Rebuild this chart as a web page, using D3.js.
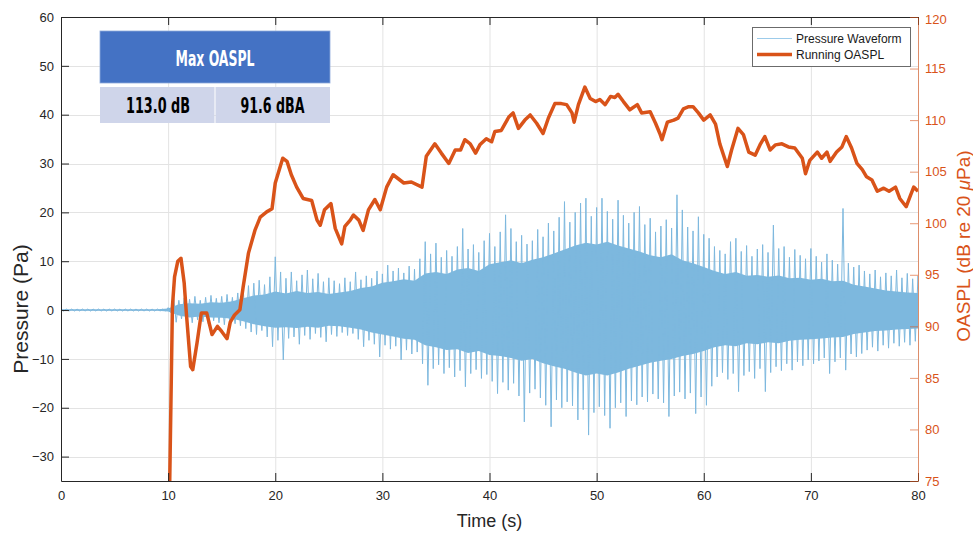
<!DOCTYPE html>
<html>
<head>
<meta charset="utf-8">
<script src="https://cdn.jsdelivr.net/npm/d3@7"></script>
<style>
  body { margin: 0; background: #fff; }
  svg { display: block; font-family: "Liberation Sans", Arial, Helvetica, sans-serif; }
</style>
</head>
<body>
<script>
// Running OASPL (dB re 20 uPa)
const oaTime = [10.15, 10.4, 10.6, 10.9, 11.2, 11.5, 11.7, 12.1, 12.3, 12.7, 13.1, 13.6, 14.1, 14.6, 15.0, 15.5, 15.8, 16.2, 16.7, 17.0,
  17.5, 18.1, 18.6, 19.2, 19.7, 20.0, 20.7, 21.1, 21.5, 22.0, 22.6, 23.4, 23.9, 24.2, 24.6, 25.2, 25.6, 26.2, 26.5, 27.0,
  27.3, 27.8, 28.2, 28.7, 29.3, 29.8, 30.4, 31.0, 32.0, 32.7, 33.7, 34.1, 34.9, 35.5, 36.2, 36.8, 37.3, 37.7, 38.2, 38.7,
  39.1, 39.7, 40.2, 40.5, 41.1, 41.8, 42.2, 42.7, 43.3, 43.8, 44.4, 45.0, 45.5, 46.1, 46.7, 47.2, 47.7, 47.9, 48.3, 48.9,
  49.4, 49.9, 50.3, 50.8, 51.3, 51.7, 52.0, 52.5, 53.1, 53.8, 54.2, 55.0, 55.5, 55.9, 56.1, 56.6, 57.2, 57.6, 58.1, 58.6,
  59.0, 59.5, 60.0, 60.6, 61.1, 61.5, 62.2, 62.6, 63.2, 63.7, 64.2, 64.8, 65.3, 65.7, 66.2, 66.7, 67.3, 67.9, 68.5, 69.2,
  69.5, 69.9, 70.6, 71.0, 71.5, 71.8, 72.4, 72.9, 73.3, 73.8, 74.3, 74.8, 75.2, 75.7, 76.2, 76.8, 77.3, 77.9, 78.3, 78.9,
  79.3, 79.6, 80.0];
const oaLevel = [75.0, 91.9, 94.8, 96.3, 96.6, 94.2, 91.3, 86.1, 85.8, 88.4, 91.3, 91.3, 89.2, 90.0, 89.5, 88.8, 90.4, 91.1, 91.6, 93.8,
  97.1, 99.3, 100.6, 101.1, 101.4, 103.9, 106.3, 106.0, 104.7, 103.5, 102.4, 102.2, 100.3, 99.8, 101.3, 101.9, 99.5, 98.0, 99.7, 100.3,
  100.8, 100.3, 99.3, 101.3, 102.3, 101.3, 103.5, 104.7, 103.9, 104.0, 103.5, 106.5, 107.7, 106.8, 105.8, 107.1, 107.1, 108.1, 107.7, 106.8,
  107.6, 108.2, 107.9, 108.9, 109.0, 110.3, 110.7, 109.2, 110.0, 110.5, 109.7, 108.7, 110.2, 111.6, 111.6, 111.5, 110.7, 109.8, 111.5, 113.2,
  112.1, 111.8, 112.0, 111.5, 112.3, 112.2, 112.5, 111.8, 111.0, 111.5, 110.7, 110.8, 109.7, 108.7, 108.1, 109.8, 110.0, 110.2, 111.1, 111.3,
  111.3, 110.7, 110.0, 110.5, 109.6, 107.7, 105.5, 107.1, 109.2, 108.6, 106.9, 106.6, 107.7, 108.4, 107.1, 107.6, 107.7, 107.4, 107.3, 106.3,
  104.8, 106.1, 106.9, 106.3, 106.9, 106.0, 106.9, 107.4, 108.4, 107.3, 105.8, 105.2, 104.5, 104.2, 103.1, 103.4, 103.1, 103.5, 102.4, 101.6,
  102.7, 103.5, 103.1];

// Pressure waveform: positive / negative peaks per 0.5 s bin (Pa), from t = 0
const waveStep = 0.5;
const wavePeakHi = [0.2, 0.2, 0.2, 0.2, 0.2, 0.2, 0.2, 0.2, 0.2, 0.2, 0.2, 0.2, 0.2, 0.2, 0.2, 0.2, 0.2, 0.2, 0.2, 0.2,
  0.5, 3.0, 2.0, 2.5, 2.2, 2.8, 2.0, 2.6, 3.0, 2.4, 2.8, 3.2, 2.6, 3.5, 4.5, 5.0, 5.5, 6.1, 5.2, 6.8,
  10.9, 7.8, 6.5, 7.8, 6.0, 7.2, 8.2, 6.4, 7.5, 5.8, 6.6, 6.0, 5.4, 6.6, 5.8, 7.8, 6.2, 7.0, 6.5, 8.0,
  7.4, 9.2, 8.0, 8.6, 7.6, 9.0, 8.4, 10.5, 14.0, 11.5, 13.7, 10.8, 12.2, 11.0, 13.0, 16.7, 12.5, 13.4, 11.8, 14.2,
  15.7, 13.0, 16.0, 19.5, 16.7, 14.0, 15.3, 13.5, 14.2, 16.5, 15.0, 17.8, 16.2, 19.0, 22.2, 18.0, 20.0, 21.9, 22.9, 19.2,
  21.0, 22.9, 20.2, 18.6, 22.5, 19.4, 17.8, 20.0, 21.2, 17.5, 18.8, 16.0, 17.2, 18.5, 16.8, 23.6, 20.5, 17.0, 16.2, 19.1,
  15.5, 14.7, 13.0, 12.2, 11.5, 14.0, 14.7, 12.0, 13.2, 11.0, 12.5, 13.4, 11.8, 17.4, 12.6, 13.0, 10.8, 12.4, 11.2, 10.5,
  12.6, 11.0, 9.8, 11.5, 10.2, 9.4, 20.8, 9.6, 8.8, 9.2, 8.0, 7.4, 8.2, 6.8, 7.6, 7.0, 8.2, 6.6, 7.5, 6.4,
  7.0];
const wavePeakLo = [-0.2, -0.2, -0.2, -0.2, -0.2, -0.2, -0.2, -0.2, -0.2, -0.2, -0.2, -0.2, -0.2, -0.2, -0.2, -0.2, -0.2, -0.2, -0.2, -0.2,
  -0.5, -2.5, -1.8, -2.2, -2.6, -2.0, -2.4, -2.8, -2.2, -2.6, -3.0, -2.4, -2.8, -3.2, -3.8, -4.5, -5.0, -4.2, -5.5, -7.5,
  -6.2, -10.2, -5.8, -5.5, -7.0, -5.2, -6.0, -4.8, -5.6, -6.5, -5.0, -5.4, -4.6, -5.2, -4.8, -6.0, -7.5, -6.2, -7.0, -9.6,
  -7.2, -8.0, -7.4, -10.2, -8.2, -9.0, -8.6, -11.0, -15.4, -12.0, -11.2, -13.0, -11.8, -13.7, -12.4, -15.7, -13.0, -12.2, -14.0, -13.2,
  -14.6, -17.1, -14.8, -16.4, -15.0, -17.6, -22.9, -17.0, -16.2, -18.0, -19.5, -23.9, -18.4, -20.0, -18.8, -19.6, -22.5, -20.4, -25.6, -21.0,
  -19.8, -21.6, -24.2, -20.0, -19.0, -21.8, -18.6, -19.4, -17.8, -18.8, -17.2, -18.2, -19.0, -21.8, -17.6, -16.8, -18.2, -17.0, -21.2, -17.8,
  -19.5, -15.6, -13.7, -12.8, -14.2, -13.0, -16.7, -13.4, -12.6, -14.0, -12.0, -16.7, -12.8, -11.6, -12.4, -11.0, -12.3, -10.6, -11.4, -10.2,
  -11.0, -10.4, -9.8, -13.0, -10.6, -9.8, -12.3, -9.0, -9.6, -8.9, -8.2, -7.6, -8.4, -7.2, -7.8, -6.8, -7.4, -6.6, -7.2, -6.4,
  -6.8];

// dense core of the waveform, every 1 s from t = 0
const coreStep = 1;
const waveCoreHi = [0.15, 0.15, 0.15, 0.15, 0.15, 0.15, 0.15, 0.15, 0.15, 0.15,
  0.3, 1.2, 1.4, 1.3, 1.6, 1.5, 1.8, 2.4, 3.0, 3.2, 3.8, 3.4, 3.9, 3.5, 3.7, 3.3, 3.6, 3.9, 4.5, 4.8,
  5.6, 5.9, 6.3, 6.0, 7.5, 7.8, 7.4, 8.3, 8.6, 8.0, 9.4, 9.8, 10.2, 9.6, 10.3, 10.8, 11.6, 12.4, 13.2, 13.8,
  13.4, 14.0, 13.2, 12.6, 12.0, 11.2, 10.8, 11.4, 10.2, 9.6, 8.8, 8.0, 7.4, 7.8, 7.0, 7.2, 6.8, 7.1, 6.5, 6.6,
  6.2, 6.4, 5.9, 6.0, 5.2, 4.8, 4.4, 4.0, 3.8, 3.6, 3.5];
const waveCoreLo = [-0.15, -0.15, -0.15, -0.15, -0.15, -0.15, -0.15, -0.15, -0.15, -0.15,
  -0.3, -1.1, -1.5, -1.3, -1.5, -1.6, -1.8, -2.3, -2.9, -3.3, -3.6, -3.5, -3.7, -3.4, -3.6, -3.2, -3.3, -3.6, -4.0, -4.6,
  -5.0, -5.4, -5.9, -6.1, -7.2, -7.6, -8.2, -8.0, -8.8, -8.4, -9.2, -9.4, -9.8, -10.4, -10.0, -10.9, -11.5, -12.0, -12.8, -13.4,
  -13.0, -13.4, -12.8, -12.0, -11.4, -10.8, -10.4, -10.0, -9.4, -9.0, -8.4, -7.6, -7.2, -7.4, -6.8, -7.0, -6.6, -6.8, -6.3, -6.1,
  -6.0, -5.8, -5.6, -5.5, -4.9, -4.6, -4.3, -4.2, -4.0, -3.9, -3.8];

const xTicks = [0, 10, 20, 30, 40, 50, 60, 70, 80];
const leftTicks = [-30, -20, -10, 0, 10, 20, 30, 40, 50, 60];
const rightTicks = [75, 80, 85, 90, 95, 100, 105, 110, 115, 120];
const tableHead = "Max OASPL";
const tableCells = ["113.0 dB", "91.6 dBA"];
const legendLabels = ["Pressure Waveform", "Running OASPL"];

const width = 973, height = 534;
const pLeft = 61, pRight = 918, pTop = 17, pBottom = 481;
const blue = "#7db8de", orange = "#d95319", ink = "#262626";

const x = d3.scaleLinear().domain([0, 80]).range([pLeft, pRight]);
const yL = d3.scaleLinear().domain([-35, 60]).range([pBottom, pTop]);
const yR = d3.scaleLinear().domain([75, 120]).range([pBottom, pTop]);

const svg = d3.select("body").append("svg")
  .attr("width", width).attr("height", height);

svg.append("clipPath").attr("id", "plot")
  .append("rect").attr("x", pLeft).attr("y", pTop)
  .attr("width", pRight - pLeft).attr("height", pBottom - pTop);

// grid
const grid = svg.append("g").attr("stroke", "#e3e3e3").attr("stroke-width", 1);
grid.selectAll(".gx").data(xTicks).join("line")
  .attr("x1", d => x(d) + 0.5).attr("x2", d => x(d) + 0.5)
  .attr("y1", pTop).attr("y2", pBottom);
grid.selectAll(".gy").data(leftTicks).join("line")
  .attr("x1", pLeft).attr("x2", pRight)
  .attr("y1", d => Math.round(yL(d)) + 0.5).attr("y2", d => Math.round(yL(d)) + 0.5);

const plot = svg.append("g").attr("clip-path", "url(#plot)");

// waveform core
plot.append("path")
  .datum(waveCoreHi.map((v, i) => ({ t: i * coreStep, hi: v, lo: waveCoreLo[i] })))
  .attr("fill", blue)
  .attr("d", d3.area().x(d => x(d.t)).y0(d => yL(d.lo)).y1(d => yL(d.hi)));

// waveform peaks, drawn as alternating max / min samples
const wavePts = [];
wavePeakHi.forEach((v, i) => {
  wavePts.push([i * waveStep, v]);
  wavePts.push([i * waveStep + waveStep / 2, wavePeakLo[i]]);
});
plot.append("path")
  .datum(wavePts)
  .attr("fill", "none")
  .attr("stroke", blue)
  .attr("stroke-width", 1)
  .attr("d", d3.line().x(d => x(d[0])).y(d => yL(d[1])));

// running OASPL
plot.append("path")
  .datum(oaTime.map((t, i) => [t, oaLevel[i]]))
  .attr("fill", "none")
  .attr("stroke", orange)
  .attr("stroke-width", 3.5)
  .attr("stroke-linejoin", "round")
  .attr("d", d3.line().x(d => x(d[0])).y(d => yR(d[1])));

// axes
const gx = svg.append("g").attr("transform", `translate(0,${pBottom})`)
  .call(d3.axisBottom(x).tickValues(xTicks).tickSize(-8).tickSizeOuter(0).tickPadding(10));
const gxTop = svg.append("g").attr("transform", `translate(0,${pTop})`)
  .call(d3.axisTop(x).tickValues(xTicks).tickSize(-8).tickSizeOuter(0).tickFormat(""));
const gl = svg.append("g").attr("transform", `translate(${pLeft},0)`)
  .call(d3.axisLeft(yL).tickValues(leftTicks).tickSize(-8).tickSizeOuter(0).tickPadding(7));
const gr = svg.append("g").attr("transform", `translate(${pRight},0)`)
  .call(d3.axisRight(yR).tickValues(rightTicks).tickSize(-8).tickSizeOuter(0).tickPadding(7));

[gx, gxTop, gl].forEach(g => {
  g.selectAll(".domain, line").attr("stroke", ink);
  g.selectAll("text").attr("fill", ink).style("font-size", "13px").style("font-family", "Liberation Sans, Arial, sans-serif");
});
gr.selectAll(".domain, line").attr("stroke", orange).attr("stroke-opacity", 0.6);
gr.selectAll("text").attr("fill", orange).style("font-size", "13px").style("font-family", "Liberation Sans, Arial, sans-serif");
gr.select(".tick:last-of-type text").attr("dy", "0.5em");

// axis titles
svg.append("text").attr("x", (pLeft + pRight) / 2).attr("y", 527)
  .attr("text-anchor", "middle").attr("fill", ink).style("font-size", "18px").text("Time (s)");
svg.append("text").attr("transform", "translate(28,309) rotate(-90)")
  .attr("text-anchor", "middle").attr("fill", ink).style("font-size", "21px").text("Pressure (Pa)");
const rl = svg.append("text").attr("transform", "translate(970,246) rotate(-90)")
  .attr("text-anchor", "middle").attr("fill", orange).style("font-size", "19px");
rl.append("tspan").text("OASPL (dB re 20 ");
rl.append("tspan").style("font-style", "italic").text("μ");
rl.append("tspan").text("Pa)");

// summary table
const tf = "'Liberation Sans Narrow', 'DejaVu Sans Condensed', 'Roboto Condensed', sans-serif";
const table = svg.append("g");
table.append("rect").attr("x", 100).attr("y", 31).attr("width", 230).attr("height", 52)
  .attr("fill", "#4472c4").attr("stroke", "#8eaadb").attr("stroke-width", 0.8);
table.append("text").attr("x", 215).attr("y", 66).attr("text-anchor", "middle")
  .attr("fill", "#fff").style("font-family", tf).style("font-weight", "bold").style("font-size", "21px")
  .attr("textLength", 79).attr("lengthAdjust", "spacingAndGlyphs").text(tableHead);
table.selectAll(".cell").data(tableCells).join("rect")
  .attr("x", (d, i) => 100 + i * 115.5).attr("y", 87).attr("width", 114.5).attr("height", 36)
  .attr("fill", "#cfd5ea");
table.selectAll(".cellText").data(tableCells).join("text")
  .attr("x", (d, i) => [158, 272.5][i]).attr("y", 113).attr("text-anchor", "middle")
  .attr("fill", "#000").style("font-family", tf).style("font-weight", "bold").style("font-size", "22px")
  .attr("textLength", 64).attr("lengthAdjust", "spacingAndGlyphs").text(d => d);

// legend
const lg = svg.append("g");
lg.append("rect").attr("x", 752.5).attr("y", 27.5).attr("width", 158).attr("height", 39)
  .attr("fill", "#fff").attr("stroke", "#6b6b6b").attr("stroke-width", 1);
const legendStyles = [{ c: "#9ccbea", w: 1 }, { c: orange, w: 3.5 }];
legendLabels.forEach((label, i) => {
  const yy = 38.5 + i * 16;
  lg.append("line").attr("x1", 757).attr("x2", 792).attr("y1", yy).attr("y2", yy)
    .attr("stroke", legendStyles[i].c).attr("stroke-width", legendStyles[i].w);
  lg.append("text").attr("x", 796).attr("y", yy + 4.3).attr("fill", "#1a1a1a")
    .style("font-size", "12px").text(label);
});
</script>
</body>
</html>
